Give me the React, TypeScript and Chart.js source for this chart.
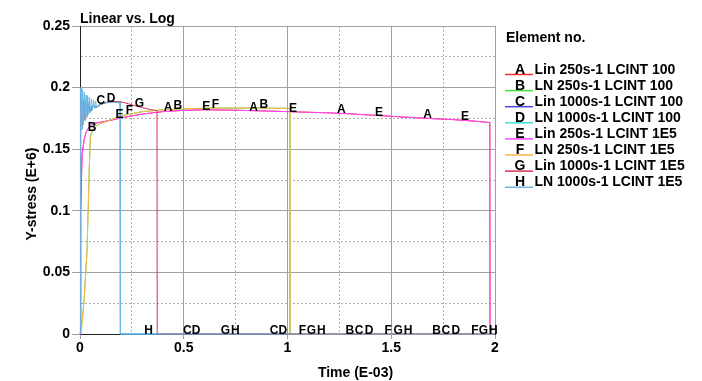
import React, { useEffect, useRef } from 'react';
import { Chart, registerables } from 'chart.js';

Chart.register(...registerables);

const FONT = '"Liberation Sans", Arial, Helvetica, sans-serif';

const chartTitle = 'Linear vs. Log';
const xTitle = 'Time (E-03)';
const yTitle = 'Y-stress (E+6)';
const legendTitle = 'Element no.';

const letters = ['A', 'B', 'C', 'D', 'E', 'F', 'G', 'H'];
const names = [
  'Lin 250s-1 LCINT 100',
  'LN 250s-1 LCINT 100',
  'Lin 1000s-1 LCINT 100',
  'LN 1000s-1 LCINT 100',
  'Lin 250s-1 LCINT 1E5',
  'LN 250s-1 LCINT 1E5',
  'Lin 1000s-1 LCINT 1E5',
  'LN 1000s-1 LCINT 1E5',
];
const colors = ['#ff2a2a', '#44dd44', '#4848e8', '#3ee0e0', '#ff44ff', '#ffb347', '#d9304f', '#6cb8e6'];

const xMajor = [0, 0.5, 1, 1.5, 2];
const yMajor = [0, 0.05, 0.1, 0.15, 0.2, 0.25];

// A: Lin 250s-1 LCINT 100
const tA = [0, 0.003, 0.01, 0.02, 0.03, 0.04, 0.05, 0.07, 0.1, 0.15, 0.2, 0.3, 0.4, 0.5, 0.6, 0.7, 0.8, 0.9, 1.0, 1.1, 1.2, 1.3, 1.4, 1.5, 1.6, 1.7, 1.8, 1.9, 1.975, 1.976, 2.0];
const yA = [0, 0.1, 0.145, 0.158, 0.164, 0.167, 0.169, 0.171, 0.172, 0.1735, 0.1755, 0.1785, 0.1805, 0.1815, 0.182, 0.1818, 0.1814, 0.181, 0.1805, 0.18, 0.1795, 0.1787, 0.1777, 0.1767, 0.1757, 0.1748, 0.174, 0.1728, 0.1716, 0, 0];
// B: LN 250s-1 LCINT 100
const tB = [0, 0.008, 0.02, 0.034, 0.045, 0.05, 0.06, 0.08, 0.1, 0.15, 0.2, 0.3, 0.4, 0.5, 0.6, 0.7, 0.8, 0.9, 1.0, 1.01, 1.011, 2.0];
const yB = [0, 0.006, 0.028, 0.068, 0.136, 0.16, 0.1655, 0.169, 0.171, 0.174, 0.177, 0.1805, 0.182, 0.1828, 0.1833, 0.1834, 0.1834, 0.1833, 0.1832, 0.1832, 0, 0];
// C: Lin 1000s-1 LCINT 100
const tC = [0, 0.002, 0.004, 0.01, 0.016, 0.022, 0.028, 0.034, 0.04, 0.05, 0.06, 0.08, 0.1, 0.13, 0.16, 0.19, 0.194, 0.195, 2.0];
const yC = [0, 0.095, 0.185, 0.168, 0.19, 0.174, 0.188, 0.177, 0.187, 0.18, 0.185, 0.184, 0.1865, 0.188, 0.1887, 0.1885, 0.1885, 0, 0];
// D: LN 1000s-1 LCINT 100
const tD = [0, 0.002, 0.004, 0.01, 0.016, 0.022, 0.028, 0.034, 0.04, 0.05, 0.06, 0.08, 0.1, 0.13, 0.16, 0.19, 0.194, 0.195, 2.0];
const yD = [0, 0.095, 0.185, 0.168, 0.19, 0.174, 0.188, 0.177, 0.187, 0.18, 0.185, 0.184, 0.1865, 0.188, 0.1887, 0.1885, 0.1885, 0, 0];
// E: Lin 250s-1 LCINT 1E5
const tE = [0, 0.003, 0.01, 0.02, 0.03, 0.04, 0.05, 0.07, 0.1, 0.15, 0.2, 0.3, 0.4, 0.5, 0.6, 0.7, 0.8, 0.9, 1.0, 1.1, 1.2, 1.3, 1.4, 1.5, 1.6, 1.7, 1.8, 1.9, 1.975, 1.976, 2.0];
const yE = [0, 0.1, 0.145, 0.158, 0.164, 0.167, 0.169, 0.171, 0.172, 0.1735, 0.1755, 0.1785, 0.1805, 0.1815, 0.182, 0.1818, 0.1814, 0.181, 0.1805, 0.18, 0.1795, 0.1787, 0.1777, 0.1767, 0.1757, 0.1748, 0.174, 0.1728, 0.1716, 0, 0];
// F: LN 250s-1 LCINT 1E5
const tF = [0, 0.008, 0.02, 0.034, 0.045, 0.05, 0.06, 0.08, 0.1, 0.15, 0.2, 0.3, 0.4, 0.5, 0.6, 0.7, 0.8, 0.9, 1.0, 1.01, 1.011, 2.0];
const yF = [0, 0.006, 0.028, 0.068, 0.136, 0.16, 0.1655, 0.169, 0.171, 0.174, 0.177, 0.1805, 0.182, 0.1828, 0.1833, 0.1834, 0.1834, 0.1833, 0.1832, 0.1832, 0, 0];
// G: Lin 1000s-1 LCINT 1E5
const tG = [0, 0.002, 0.004, 0.01, 0.016, 0.022, 0.028, 0.034, 0.04, 0.05, 0.06, 0.08, 0.1, 0.13, 0.16, 0.19, 0.22, 0.26, 0.3, 0.34, 0.371, 0.372, 2.0];
const yG = [0, 0.095, 0.185, 0.168, 0.19, 0.174, 0.188, 0.177, 0.187, 0.18, 0.185, 0.184, 0.1865, 0.188, 0.1887, 0.1885, 0.1875, 0.1855, 0.1838, 0.1822, 0.1812, 0, 0];
// H: LN 1000s-1 LCINT 1E5
const tH = [0, 0.002, 0.005, 0.009, 0.013, 0.017, 0.021, 0.025, 0.029, 0.033, 0.037, 0.041, 0.045, 0.05, 0.055, 0.06, 0.065, 0.07, 0.075, 0.08, 0.09, 0.1, 0.12, 0.15, 0.18, 0.194, 0.195, 2.0];
const yH = [0, 0.2, 0.2, 0.166, 0.198, 0.17, 0.196, 0.173, 0.194, 0.176, 0.193, 0.178, 0.192, 0.18, 0.191, 0.182, 0.19, 0.183, 0.189, 0.184, 0.186, 0.187, 0.1875, 0.188, 0.1878, 0.1875, 0, 0];

// Positions (time) of the curve identification letters
const labA = [0.425, 0.837, 1.26, 1.675];
const labB = [0.058, 0.471, 0.886, 1.3, 1.719];
const labC = [0.101, 0.517, 0.935, 1.345, 1.763];
const labD = [0.15, 0.56, 0.978, 1.393, 1.811];
const labE = [0.19, 0.608, 1.026, 1.441, 1.855];
const labF = [0.238, 0.653, 1.072, 1.485, 1.903];
const labG = [0.286, 0.701, 1.115, 1.533, 1.944];
const labH = [0.331, 0.748, 1.163, 1.581, 1.992];

const times = [tA, tB, tC, tD, tE, tF, tG, tH];
const values = [yA, yB, yC, yD, yE, yF, yG, yH];
const labelTimes = [labA, labB, labC, labD, labE, labF, labG, labH];

function interp(ts: number[], ys: number[], t: number): number {
  if (t <= ts[0]) return ys[0];
  for (let i = 1; i < ts.length; i++) {
    if (t <= ts[i]) {
      const t0 = ts[i - 1], t1 = ts[i];
      const f = t1 === t0 ? 1 : (t - t0) / (t1 - t0);
      return ys[i - 1] + f * (ys[i] - ys[i - 1]);
    }
  }
  return ys[ys.length - 1];
}

const isMinorY = (v: number) => !yMajor.some((m) => Math.abs(m - v) < 1e-6);
const isMinorX = (v: number) => !xMajor.some((m) => Math.abs(m - v) < 1e-6);

const curveLetters = {
  id: 'curveLetters',
  afterDatasetsDraw(chart: any) {
    const ctx = chart.ctx;
    const xs = chart.scales.x;
    const ys = chart.scales.y;
    ctx.save();
    ctx.font = `bold 12px ${FONT}`;
    ctx.fillStyle = '#000';
    ctx.textAlign = 'center';
    ctx.textBaseline = 'alphabetic';
    letters.forEach((L, i) => {
      labelTimes[i].forEach((t) => {
        const v = interp(times[i], values[i], t);
        ctx.fillText(L, xs.getPixelForValue(t), ys.getPixelForValue(v));
      });
    });
    ctx.restore();
  },
};

const textsAndLegend = {
  id: 'textsAndLegend',
  afterDraw(chart: any) {
    const ctx = chart.ctx;
    const area = chart.chartArea;
    ctx.save();
    ctx.fillStyle = '#000';
    ctx.font = `bold 14px ${FONT}`;
    ctx.textBaseline = 'alphabetic';
    // chart title
    ctx.textAlign = 'left';
    ctx.fillText(chartTitle, area.left, 22.5);
    // x title
    ctx.textAlign = 'center';
    ctx.fillText(xTitle, 355.5, 377);
    // y title
    ctx.save();
    ctx.translate(35.5, 194);
    ctx.rotate(-Math.PI / 2);
    ctx.fillText(yTitle, 0, 0);
    ctx.restore();
    // legend
    ctx.textAlign = 'left';
    ctx.fillText(legendTitle, 506, 41.5);
    letters.forEach((L, i) => {
      const y = 73.5 + i * 16.1;
      ctx.strokeStyle = colors[i];
      ctx.lineWidth = 1.5;
      ctx.beginPath();
      ctx.moveTo(505, y + 1);
      ctx.lineTo(533, y + 1);
      ctx.stroke();
      ctx.textAlign = 'center';
      ctx.fillText(L, 520, y);
      ctx.textAlign = 'left';
      ctx.fillText(names[i], 534.5, y);
    });
    ctx.restore();
  },
};

export default function App() {
  const ref = useRef<HTMLCanvasElement | null>(null);

  useEffect(() => {
    if (!ref.current) return;
    const datasets = letters.map((L, i) => ({
      label: `${L} ${names[i]}`,
      data: times[i].map((t, k) => ({ x: t, y: values[i][k] })),
      borderColor: colors[i],
      backgroundColor: colors[i],
      borderWidth: 1,
      pointRadius: 0,
      showLine: true,
      tension: 0,
      fill: false,
      clip: 4,
      order: 7 - i,
    }));

    const chart = new Chart(ref.current, {
      type: 'scatter',
      data: { datasets },
      options: {
        animation: false,
        responsive: false,
        devicePixelRatio: 1,
        layout: { padding: { left: 0, right: 207, top: 26, bottom: 0 } },
        plugins: {
          legend: { display: false },
          tooltip: { enabled: false },
          title: { display: false },
        },
        scales: {
          x: {
            type: 'linear',
            min: 0,
            max: 2,
            afterFit: (s: any) => { s.height = 47; },
            ticks: {
              stepSize: 0.25,
              autoSkip: false,
              maxRotation: 0,
              padding: 1,
              color: '#000',
              font: { family: FONT, size: 14, weight: 'bold' },
              callback: (v: any) => (isMinorX(Number(v)) ? '' : String(Number(v))),
            },
            grid: {
              color: (c: any) => (c.tick && isMinorX(c.tick.value) ? '#b0b0b0' : '#a0a0a0'),
              tickColor: (c: any) => (c.tick && isMinorX(c.tick.value) ? 'rgba(0,0,0,0)' : '#a0a0a0'),
              tickLength: 5,
              lineWidth: 1,
            },
            border: {
              display: true,
              color: '#222',
              width: 1,
              dash: (c: any) => (c.tick && isMinorX(c.tick.value) ? [2, 2] : []),
            },
          },
          y: {
            type: 'linear',
            min: 0,
            max: 0.25,
            afterFit: (s: any) => { s.width = 80; },
            ticks: {
              stepSize: 0.025,
              autoSkip: false,
              padding: 2,
              color: '#000',
              font: { family: FONT, size: 14, weight: 'bold' },
              callback: (v: any) => (isMinorY(Number(v)) ? '' : String(Number(Number(v).toFixed(2)))),
            },
            grid: {
              color: (c: any) => (c.tick && isMinorY(c.tick.value) ? '#b0b0b0' : '#a0a0a0'),
              tickColor: (c: any) => (c.tick && isMinorY(c.tick.value) ? 'rgba(0,0,0,0)' : '#a0a0a0'),
              tickLength: 8,
              lineWidth: 1,
            },
            border: {
              display: true,
              color: '#222',
              width: 1,
              dash: (c: any) => (c.tick && isMinorY(c.tick.value) ? [2, 2] : []),
            },
          },
        },
      },
      plugins: [curveLetters, textsAndLegend],
    } as any);

    return () => chart.destroy();
  }, []);

  return (
    <div style={{ position: 'absolute', left: 0, top: 0, width: 702, height: 381, background: '#fff' }}>
      <canvas ref={ref} width={702} height={381} style={{ display: 'block', width: 702, height: 381 }} />
    </div>
  );
}
